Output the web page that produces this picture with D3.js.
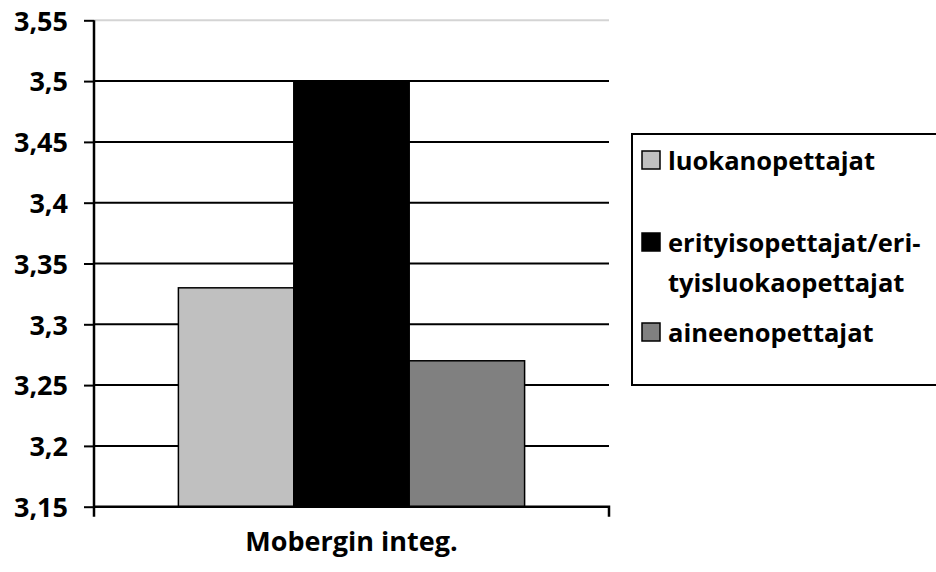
<!DOCTYPE html>
<html><head><meta charset="utf-8">
<script src="https://cdn.jsdelivr.net/npm/d3@7"></script>
<style>body{margin:0;background:#fff}svg{display:block}text{font-family:"Open Sans",sans-serif;font-weight:bold;fill:#000}</style>
</head><body>
<svg id="c" width="936" height="572"></svg>
<script>
const categories = ["Mobergin integ."];
const seriesNames = ["luokanopettajat", "erityisopettajat/eri-\ntyisluokaopettajat", "aineenopettajat"];
const seriesValues = [3.33, 3.50, 3.27];
const seriesColors = ["#c0c0c0", "#000000", "#808080"];
const yTicks = [3.15, 3.2, 3.25, 3.3, 3.35, 3.4, 3.45, 3.5, 3.55];
const yTickLabels = ["3,15", "3,2", "3,25", "3,3", "3,35", "3,4", "3,45", "3,5", "3,55"];

const svg = d3.select("#c");
const L = 94, R = 609, T = 20.3, B = 506.7;
const y = d3.scaleLinear().domain([3.15, 3.55]).range([B, T]);
const x0 = d3.scaleBand().domain(categories).range([L, R]).paddingInner(0.196).paddingOuter(0.196);
const x1 = d3.scaleBand().domain(d3.range(seriesValues.length)).range([0, x0.bandwidth()]);

// gridlines
svg.append("g").selectAll("line").data(yTicks.slice(1)).join("line")
  .attr("x1", L).attr("x2", R)
  .attr("y1", d => y(d)).attr("y2", d => y(d))
  .attr("stroke", d => d === 3.55 ? "#d4d4d4" : "#000")
  .attr("stroke-width", 2);

// bars
categories.forEach(cat => {
  svg.append("g").selectAll("rect").data(seriesValues).join("rect")
    .attr("x", (d, i) => x0(cat) + x1(i))
    .attr("width", x1.bandwidth())
    .attr("y", d => y(d))
    .attr("height", d => y(3.15) - y(d))
    .attr("fill", (d, i) => seriesColors[i])
    .attr("stroke", "#000").attr("stroke-width", 1.5);
});

// y axis
const yAxis = d3.axisLeft(y).tickValues(yTicks).tickSize(10).tickPadding(16)
  .tickFormat((d, i) => yTickLabels[i]);
const ya = svg.append("g").attr("transform", `translate(${L},0)`).call(yAxis);
ya.select(".domain").attr("d", `M0,${T}V${B + 10}`).attr("stroke", "#000").attr("stroke-width", 2.5);
ya.selectAll(".tick line").attr("stroke", "#000").attr("stroke-width", 2);
ya.selectAll(".tick text").style("font-family", '"Open Sans",sans-serif').style("font-weight", "bold")
  .style("font-size", "27px").attr("fill", "#000").attr("dy", "0.36em");

// x axis
const xAxis = d3.axisBottom(x0).tickSize(0).tickFormat(() => "");
const xa = svg.append("g").attr("transform", `translate(0,${B})`).call(xAxis);
xa.select(".domain").attr("d", `M${L},0H${R}V10`).attr("stroke", "#000").attr("stroke-width", 2.5).attr("fill", "none");
svg.append("text").attr("x", x0(categories[0]) + x0.bandwidth() / 2).attr("y", 551)
  .attr("text-anchor", "middle").style("font-size", "27px").text(categories[0]);

// legend
const lg = svg.append("g");
lg.append("rect").attr("x", 632).attr("y", 134).attr("width", 320).attr("height", 251)
  .attr("fill", "#fff").attr("stroke", "#000").attr("stroke-width", 2);
const baselines = [170, 252, 342];
seriesNames.forEach((name, i) => {
  lg.append("rect").attr("x", 642).attr("y", baselines[i] - 19).attr("width", 18).attr("height", 18)
    .attr("fill", seriesColors[i]).attr("stroke", "#000").attr("stroke-width", 1.5);
  const t = lg.append("text").attr("x", 668).attr("y", baselines[i]).style("font-size", "25.5px");
  name.split("\n").forEach((ln, j) => {
    t.append("tspan").attr("x", 668).attr("dy", j === 0 ? 0 : 40).text(ln);
  });
});
</script>
</body></html>
